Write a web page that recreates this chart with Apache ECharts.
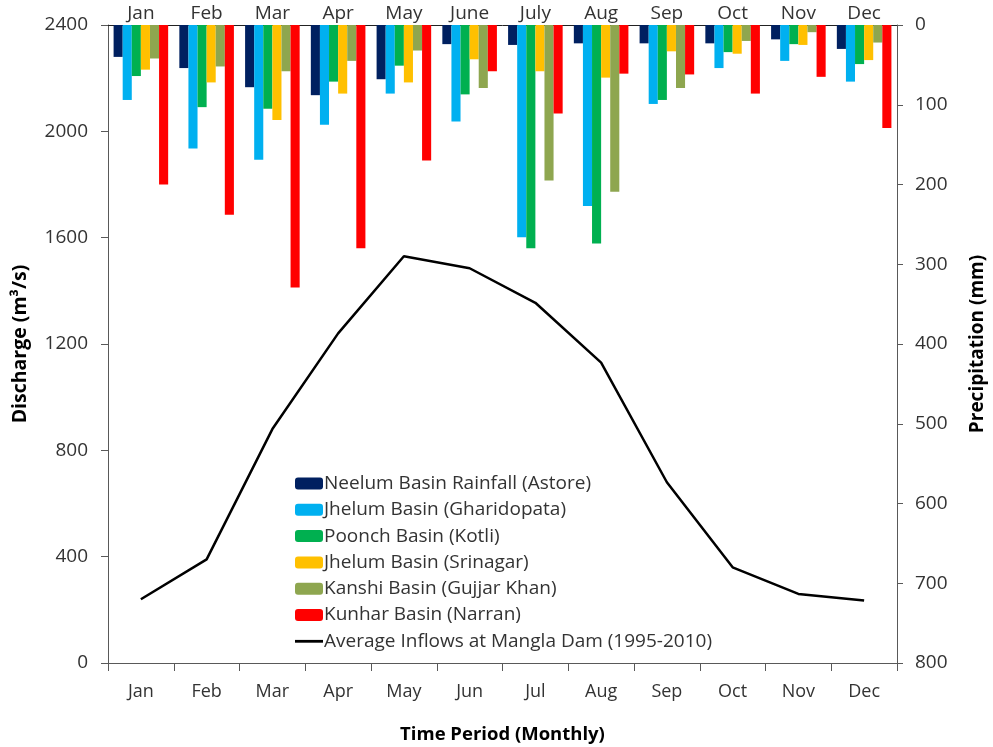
<!DOCTYPE html>
<html>
<head>
<meta charset="utf-8">
<script src="https://cdn.jsdelivr.net/npm/echarts@6/dist/echarts.min.js"></script>
<style>
  html, body { margin: 0; padding: 0; background: #fff; }
  #main { width: 993px; height: 747px; }
</style>
</head>
<body>
<div id="main"></div>
<script>
// months on the bottom axis (inflows) and top axis (rainfall bars)
const months = ['Jan', 'Feb', 'Mar', 'Apr', 'May', 'Jun', 'Jul', 'Aug', 'Sep', 'Oct', 'Nov', 'Dec'];
const topMonths = ['Jan', 'Feb', 'Mar', 'Apr', 'May', 'June', 'July', 'Aug', 'Sep', 'Oct', 'Nov', 'Dec'];

// precipitation (mm)
const astore = [40, 54, 78, 88, 68, 24, 25, 23, 23, 23, 18, 30];
const gharidopata = [94, 155, 169, 125, 86, 121, 266, 227, 99, 54, 45, 71];
const kotli = [64, 103, 105, 71, 51, 87, 280, 274, 94, 34, 24, 49];
const srinagar = [56, 72, 119, 86, 72, 43, 58, 66, 33, 36, 25, 44];
const gujjarKhan = [42, 52, 58, 45, 32, 79, 195, 209, 79, 20, 9, 22];
const narran = [200, 238, 329, 280, 170, 58, 111, 61, 62, 86, 65, 129];

// discharge (m3/s)
const inflows = [240, 390, 880, 1240, 1530, 1485, 1355, 1130, 680, 360, 260, 235];

const font = '"Open Sans", sans-serif';
const textCol = '#333';
const lineCol = '#595959';

function barSeries(name, data, color) {
  return {
    name: name,
    type: 'bar',
    xAxisIndex: 1,
    yAxisIndex: 1,
    data: data,
    barGap: '0%',
    barCategoryGap: '17%',
    itemStyle: { color: color }
  };
}

const chart = echarts.init(document.getElementById('main'));

const option = {
  animation: false,
  textStyle: { fontFamily: font },
  grid: { left: 108, right: 96, top: 25, bottom: 84, outerBoundsMode: 'none', containLabel: false },
  legend: {
    orient: 'vertical',
    left: 290,
    top: 469,
    itemWidth: 28,
    itemHeight: 12,
    itemGap: 7.3,
    textStyle: { fontFamily: font, fontSize: 19, color: textCol, padding: [0, 0, 0, -4] },
    data: [
      'Neelum Basin Rainfall (Astore)',
      'Jhelum Basin (Gharidopata)',
      'Poonch Basin (Kotli)',
      'Jhelum Basin (Srinagar)',
      'Kanshi Basin (Gujjar Khan)',
      'Kunhar Basin (Narran)',
      { name: 'Average Inflows at Mangla Dam (1995-2010)', icon: 'path://M0,0 L30,0 L30,3 L0,3 Z' }
    ]
  },
  xAxis: [
    {
      type: 'category',
      position: 'bottom',
      data: months,
      boundaryGap: true,
      name: 'Time Period (Monthly)',
      nameLocation: 'middle',
      nameGap: 62,
      nameTextStyle: { fontFamily: font, fontSize: 18.5, fontWeight: 'bold', color: '#000' },
      axisLine: { lineStyle: { color: lineCol, width: 1 } },
      axisTick: { show: true, length: 8, alignWithLabel: false, lineStyle: { color: lineCol } },
      axisLabel: { fontFamily: font, fontSize: 18, color: textCol, margin: 20 }
    },
    {
      type: 'category',
      position: 'top',
      data: topMonths,
      boundaryGap: true,
      axisLine: { lineStyle: { color: '#222', width: 1 } },
      axisTick: { show: false },
      axisLabel: { fontFamily: font, fontSize: 19, color: textCol, margin: 2 }
    }
  ],
  yAxis: [
    {
      type: 'value',
      min: 0,
      max: 2400,
      interval: 400,
      name: 'Discharge (m³/s)',
      nameLocation: 'middle',
      nameGap: 78,
      nameTextStyle: { fontFamily: font, fontSize: 19.5, fontWeight: 'bold', color: '#000' },
      axisLine: { show: true, lineStyle: { color: lineCol } },
      axisTick: { show: true, length: 7, lineStyle: { color: lineCol } },
      axisLabel: { fontFamily: font, fontSize: 19, color: textCol, margin: 20, formatter: function (v) { return String(v); } },
      splitLine: { show: false }
    },
    {
      type: 'value',
      min: 0,
      max: 800,
      interval: 100,
      inverse: true,
      position: 'right',
      name: 'Precipitation (mm)',
      nameLocation: 'middle',
      nameGap: 71,
      nameRotate: 90,
      nameTextStyle: { fontFamily: font, fontSize: 19, fontWeight: 'bold', color: '#000' },
      axisLine: { show: true, lineStyle: { color: lineCol } },
      axisTick: { show: true, length: 6, lineStyle: { color: lineCol } },
      axisLabel: { fontFamily: font, fontSize: 19, color: textCol, margin: 18 },
      splitLine: { show: false }
    }
  ],
  series: [
    barSeries('Neelum Basin Rainfall (Astore)', astore, '#002060'),
    barSeries('Jhelum Basin (Gharidopata)', gharidopata, '#00B0F0'),
    barSeries('Poonch Basin (Kotli)', kotli, '#00B050'),
    barSeries('Jhelum Basin (Srinagar)', srinagar, '#FFC000'),
    barSeries('Kanshi Basin (Gujjar Khan)', gujjarKhan, '#8EA64F'),
    barSeries('Kunhar Basin (Narran)', narran, '#FF0000'),
    {
      name: 'Average Inflows at Mangla Dam (1995-2010)',
      type: 'line',
      xAxisIndex: 0,
      yAxisIndex: 0,
      data: inflows,
      symbol: 'none',
      lineStyle: { color: '#000', width: 2.5 },
      itemStyle: { color: '#000' }
    }
  ]
};

chart.setOption(option);
</script>
</body>
</html>
